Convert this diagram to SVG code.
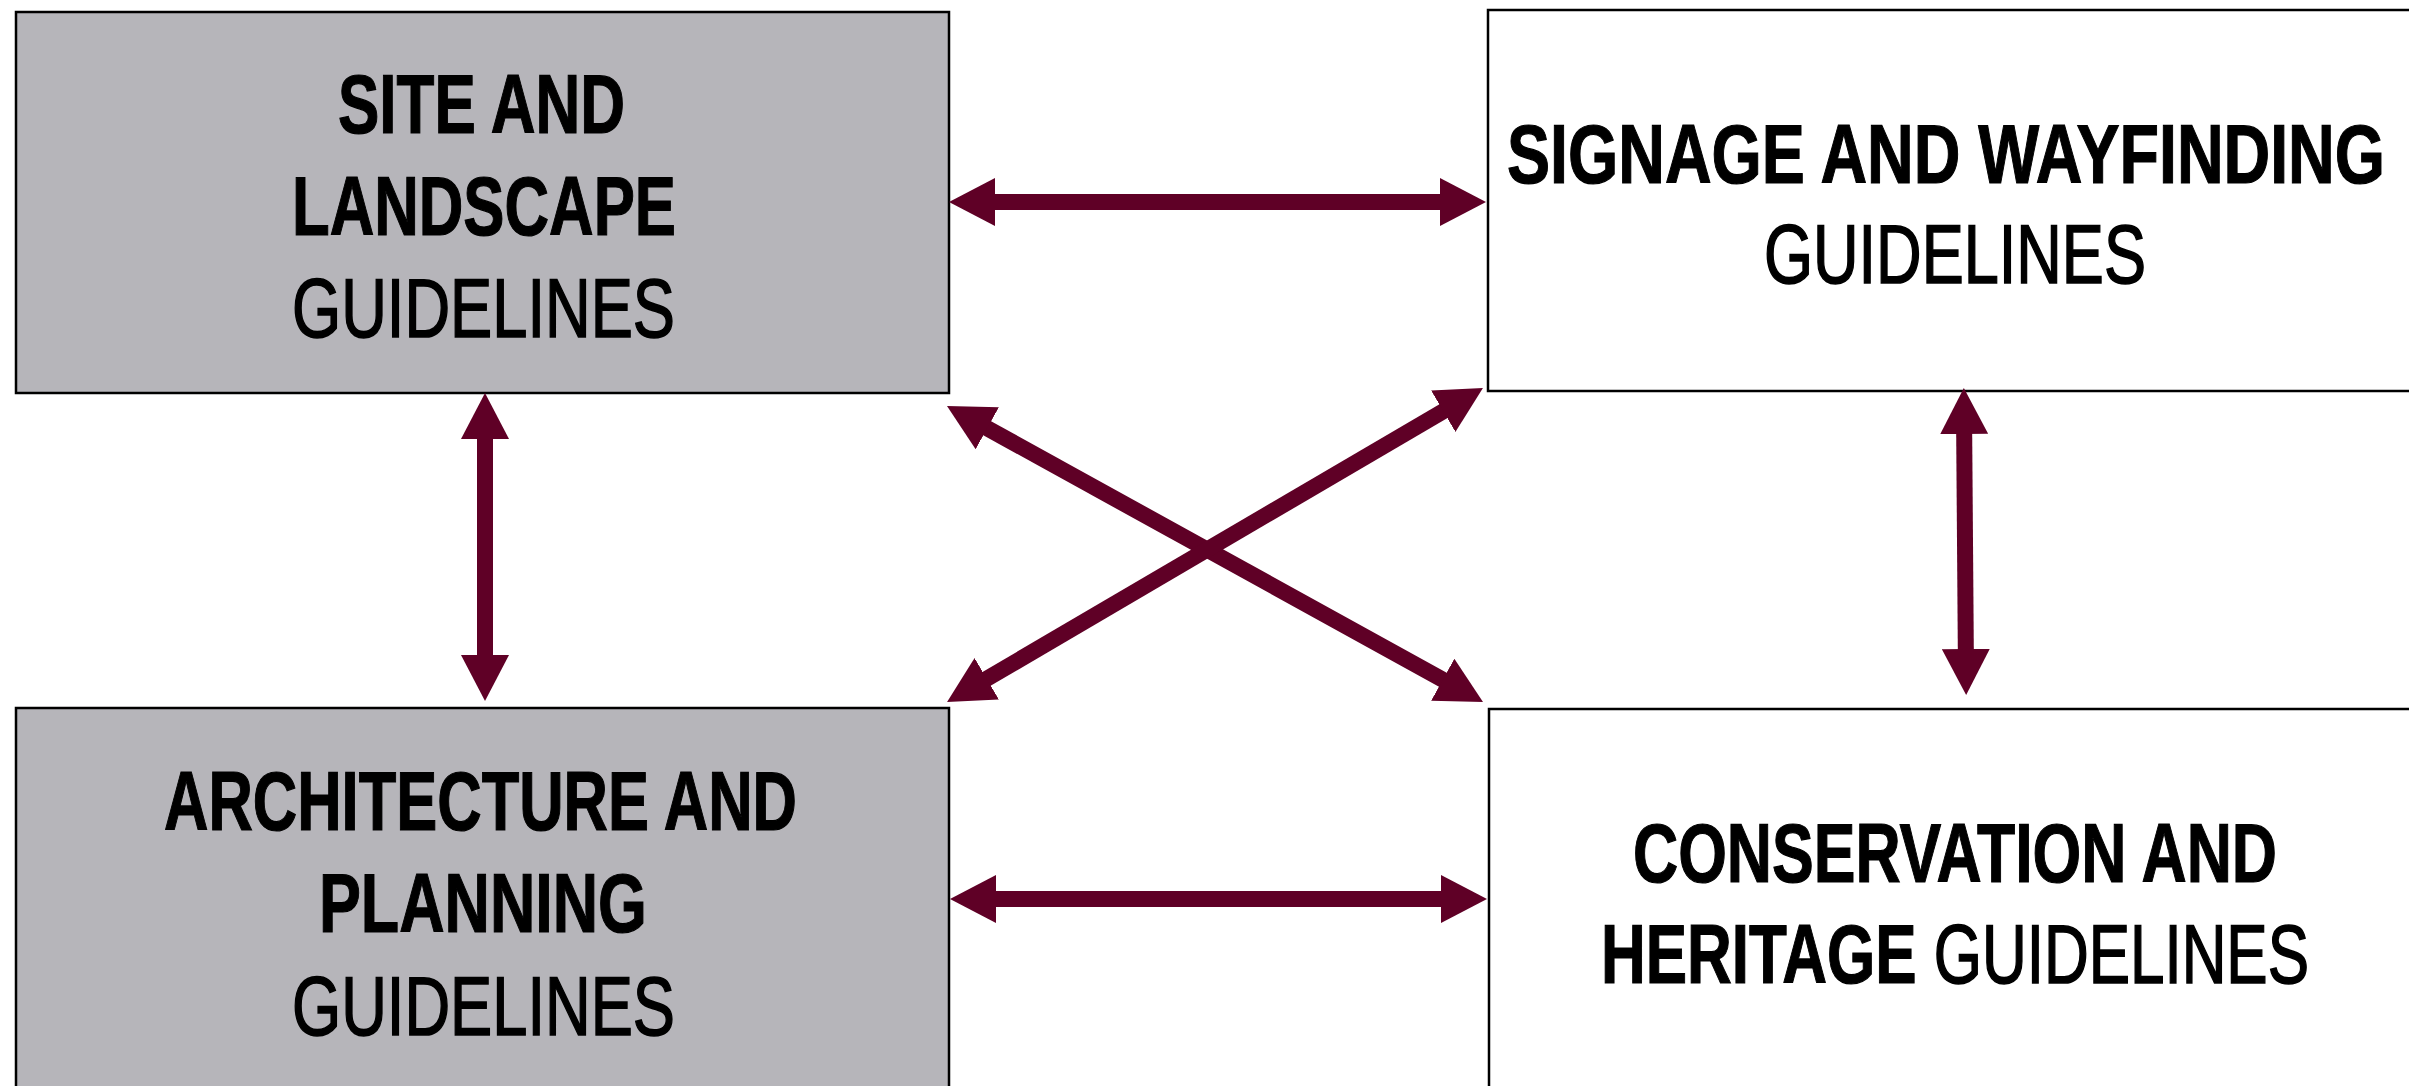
<svg xmlns="http://www.w3.org/2000/svg" width="2409" height="1086" viewBox="0 0 2409 1086">
<defs>
<style>
.box{stroke:#000;stroke-width:2.5}
.grey{fill:#B6B5BA}
.white{fill:#FFFFFF}
.t{font-family:"Liberation Sans",Arial,sans-serif;font-size:84px;fill:#000}
.b{font-weight:bold;stroke:#000;stroke-width:1.2}
.n{font-weight:normal;stroke:#000;stroke-width:1.6}
.conn{stroke:#5F0026;stroke-width:16;fill:none;marker-start:url(#ah);marker-end:url(#ah)}
</style>
<marker id="ah" markerUnits="userSpaceOnUse" markerWidth="46" markerHeight="48" viewBox="0 0 46 48" refX="26" refY="24" orient="auto-start-reverse">
<path d="M0,0 L46,24 L0,48 z" fill="#5F0026"/>
</marker>
</defs>
<rect width="2409" height="1086" fill="#FFFFFF"/>
<g id="site-landscape">
<rect class="box grey" x="16" y="12" width="933" height="381"/>
<g transform="scale(0.75,1)">
<text class="t b" x="450.7" y="133" textLength="382.7" lengthAdjust="spacingAndGlyphs">SITE AND</text>
<text class="t b" x="389.3" y="235" textLength="512" lengthAdjust="spacingAndGlyphs">LANDSCAPE</text>
<text class="t n" x="389.3" y="337" textLength="510.7" lengthAdjust="spacingAndGlyphs">GUIDELINES</text>
</g>
</g>
<g id="signage-wayfinding">
<rect class="box white" x="1488" y="10" width="950" height="381"/>
<g transform="scale(0.75,1)">
<text class="t b" x="2009.3" y="183" textLength="1170.7" lengthAdjust="spacingAndGlyphs">SIGNAGE AND WAYFINDING</text>
<text class="t n" x="2352" y="283" textLength="509.3" lengthAdjust="spacingAndGlyphs">GUIDELINES</text>
</g>
</g>
<g id="architecture-planning">
<rect class="box grey" x="16" y="708" width="933" height="420"/>
<g transform="scale(0.75,1)">
<text class="t b" x="218.7" y="830" textLength="844" lengthAdjust="spacingAndGlyphs">ARCHITECTURE AND</text>
<text class="t b" x="425.3" y="932" textLength="437.3" lengthAdjust="spacingAndGlyphs">PLANNING</text>
<text class="t n" x="389.3" y="1035" textLength="510.7" lengthAdjust="spacingAndGlyphs">GUIDELINES</text>
</g>
</g>
<g id="conservation-heritage">
<rect class="box white" x="1489" y="709" width="950" height="420"/>
<g transform="scale(0.75,1)">
<text class="t b" x="2177.3" y="882" textLength="858.7" lengthAdjust="spacingAndGlyphs">CONSERVATION AND</text>
<text class="t" x="2134.7" y="983" textLength="944" lengthAdjust="spacingAndGlyphs"><tspan class="b">HERITAGE </tspan><tspan class="n">GUIDELINES</tspan></text>
</g>
</g>
<g id="connectors">
<line class="conn" x1="969" y1="202" x2="1466" y2="202"/>
<line class="conn" x1="970" y1="899" x2="1467" y2="899"/>
<line class="conn" x1="485" y1="413" x2="485" y2="681"/>
<line class="conn" x1="1964" y1="408" x2="1966" y2="675"/>
<line class="conn" x1="964.5" y1="415.7" x2="1465.5" y2="692.3"/>
<line class="conn" x1="964.3" y1="691.9" x2="1465.7" y2="398.1"/>
</g>
</svg>
